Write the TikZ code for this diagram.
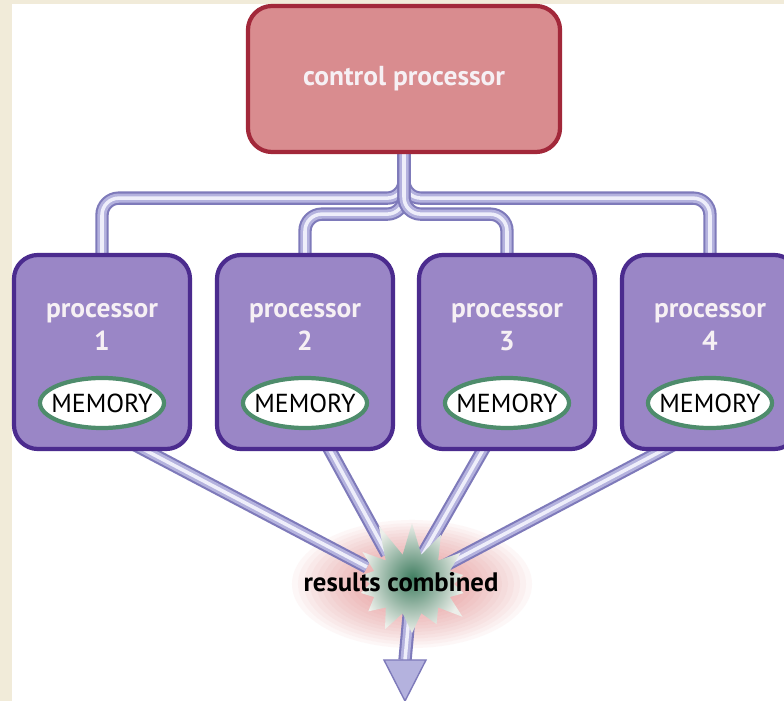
\documentclass[tikz,border=0pt]{standalone}
\usepackage{fontspec}
\setmainfont{PT Sans}
\usetikzlibrary{shapes.geometric, shapes.symbols, calc}
\pgfdeclarelayer{background}
\pgfsetlayers{background,main}

\definecolor{pagebeige}{HTML}{F1EBD9}
\definecolor{ctrlfill}{HTML}{D98C8F}
\definecolor{ctrledge}{HTML}{A2283A}
\definecolor{procfill}{HTML}{9A86C6}
\definecolor{procedge}{HTML}{4B2B8E}
\definecolor{pipedark}{HTML}{7E7ABA}
\definecolor{pipemid}{HTML}{B4B2DE}
\definecolor{pipelight}{HTML}{EEEEFA}
\definecolor{memgreen}{HTML}{4E8C6C}
\definecolor{burstgreen}{HTML}{3F7D60}
\definecolor{burstpale}{HTML}{EDEFEA}
\definecolor{glowred}{HTML}{E07272}
\definecolor{labelwhite}{HTML}{F6F0F4}

\tikzset{
  ctrlbox/.style={rounded corners=0.6cm, fill=ctrlfill, draw=ctrledge, line width=3pt,
    minimum width=7.8cm, minimum height=3.65cm},
  procbox/.style={rounded corners=0.6cm, fill=procfill, draw=procedge, line width=3pt,
    minimum width=4.4cm, minimum height=4.85cm},
  boxtext/.style={text=labelwhite, font=\fontsize{19.5}{23}\selectfont\bfseries, align=center},
  memory/.style={ellipse, fill=white, draw=memgreen, line width=3pt, inner xsep=-6pt,
    inner ysep=1pt, minimum width=3.1cm, minimum height=1.25cm,
    font=\fontsize{18.5}{20}\selectfont},
  pipe/.style={line width=9.5pt, draw=pipedark, rounded corners=12pt,
    postaction={draw=pipemid, line width=6.5pt},
    postaction={draw=pipelight, line width=2.5pt}},
}

\begin{document}
\begin{tikzpicture}[x=0.025cm, y=-0.025cm]
  \useasboundingbox (0,0) rectangle (784,701);

  % Control processor
  \node[ctrlbox, boxtext] (ctrl) at (404,79) {control processor};

  % Processors
  \foreach \i/\x in {1/102, 2/305, 3/507, 4/710} {
    \node[procbox] (p\i) at (\x,352) {};
    \node[boxtext] (t\i) at (\x,327) {processor\\\i};
    \node[memory] (m\i) at (\x,403) {MEMORY};
  }

  % Results
  \pgfmathsetseed{7}
  \node[starburst, starburst points=14, starburst point height=0.9cm, random starburst=50,
    minimum width=3.9cm, minimum height=3.3cm, shade, shading=radial,
    inner color=burstgreen, outer color=burstpale] (burst) at (412,584) {};
  \node[font=\fontsize{19}{20}\selectfont\bfseries] (result) at (401,582) {results combined};
  \coordinate (headbase) at (405,660);
  \coordinate (tip) at (405,701);

  \begin{pgfonlayer}{background}
    % Page
    \fill[pagebeige] (0,0) rectangle (784,701);
    \fill[white] (12,4) rectangle (784,701);
    % Glow
    \foreach \k in {1,...,20}
      \fill[glowred, opacity=0.05] (burst.center)
        ellipse [x radius={0.15cm*\k}, y radius={0.08cm*\k}];
    % Upper pipes
    \draw[pipe] (ctrl.south) -- ++(0,44) -| (p1.north);
    \draw[pipe] (ctrl.south) -- ++(0,44) -| (p4.north);
    \draw[pipe] (ctrl.south) -- ++(0,60) -| (p2.north);
    \draw[pipe] (ctrl.south) -- ++(0,60) -| (p3.north);
    % Lower pipes
    \draw[pipe] ($(p1.south)+(26,-10)$) -- ($(burst.center)+(-45,-17)$);
    \draw[pipe] ($(p2.south)+(20,-10)$) -- ($(burst.center)+(-25,-30)$);
    \draw[pipe] ($(p3.south)+(-19,-10)$) -- ($(burst.center)+(10,-28)$);
    \draw[pipe] ($(p4.south)+(-30,-10)$) -- ($(burst.center)+(30,-17)$);
    % Output arrow
    \draw[pipe] (burst.center) -- (headbase);
    \filldraw[fill=pipemid, draw=pipedark, line width=1pt]
      ($(headbase)+(-21,0)$) -- ($(headbase)+(21,0)$) -- (tip) -- cycle;
  \end{pgfonlayer}
\end{tikzpicture}
\end{document}
